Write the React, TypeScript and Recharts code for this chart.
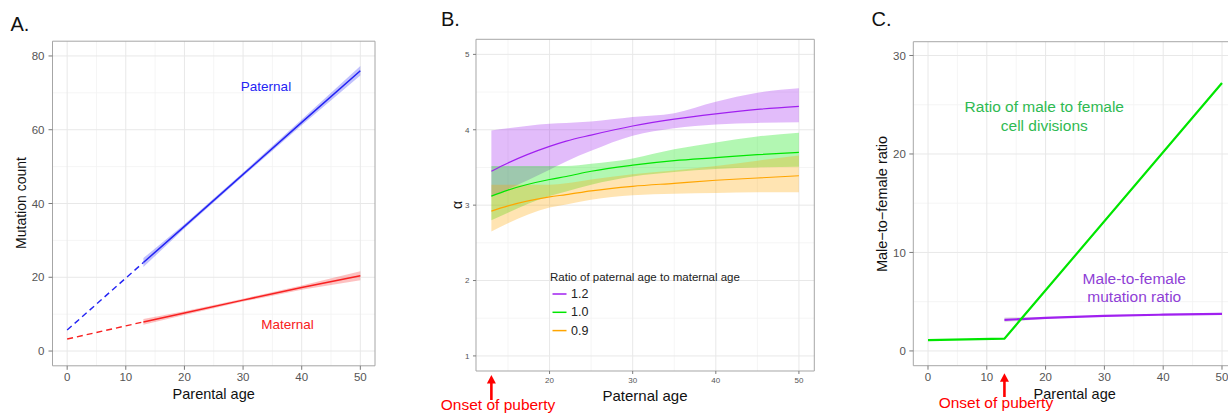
import React from 'react';
import {
  ComposedChart,
  Line,
  Area,
  XAxis,
  YAxis,
  CartesianGrid,
  ReferenceArea,
  Legend,
} from 'recharts';

const FONT = '"Liberation Sans", Arial, Helvetica, sans-serif';
const PUBERTY_AGE = 13;
const pubertyLabel = 'Onset of puberty';

// ---------- Panel A: mutation count vs parental age ----------
const ageAExtrap = [0, 13];
const paternalExtrap = [5.7, 24.0];
const maternalExtrap = [3.25, 7.9];
const ageAFit = [13, 20, 30, 40, 50];
const paternalFit = [24.0, 33.8, 47.9, 62.0, 76.0];
const paternalLow = [22.8, 33.2, 47.4, 61.2, 74.7];
const paternalHigh = [25.2, 34.4, 48.4, 62.8, 77.3];
const maternalFit = [7.9, 10.3, 13.8, 17.2, 20.4];
const maternalLow = [7.1, 9.8, 13.4, 16.6, 19.2];
const maternalHigh = [8.7, 10.8, 14.2, 17.8, 21.6];
const xTicksA = [0, 10, 20, 30, 40, 50];
const xMinorA = [5, 15, 25, 35, 45];
const yTicksA = [0, 20, 40, 60, 80];
const yMinorA = [10, 30, 50, 70];

// ---------- Panel B: alpha vs paternal age ----------
const ageB = [13, 15, 20, 22, 25, 30, 35, 40, 45, 50];
const ratio12Fit = [3.45, 3.56, 3.78, 3.85, 3.93, 4.05, 4.14, 4.21, 4.27, 4.31];
const ratio12Low = [3.11, 3.21, 3.47, 3.58, 3.72, 3.92, 4.02, 4.07, 4.09, 4.1];
const ratio12High = [3.99, 4.02, 4.08, 4.09, 4.11, 4.17, 4.22, 4.37, 4.49, 4.55];
const ratio10Fit = [3.12, 3.2, 3.34, 3.38, 3.45, 3.53, 3.59, 3.63, 3.67, 3.7];
const ratio10Low = [2.8, 2.9, 3.12, 3.18, 3.27, 3.38, 3.44, 3.48, 3.5, 3.51];
const ratio10High = [3.52, 3.52, 3.52, 3.52, 3.55, 3.62, 3.74, 3.83, 3.91, 3.96];
const ratio09Fit = [2.92, 2.99, 3.11, 3.14, 3.19, 3.25, 3.29, 3.33, 3.36, 3.39];
const ratio09Low = [2.65, 2.76, 2.97, 3.01, 3.07, 3.13, 3.15, 3.16, 3.17, 3.17];
const ratio09High = [3.27, 3.27, 3.27, 3.29, 3.34, 3.41, 3.46, 3.52, 3.59, 3.66];
const xTicksB = [PUBERTY_AGE, 20, 30, 40, 50];
const xMajorB = [20, 30, 40, 50];
const xMinorB = [15, 25, 35, 45];
const yTicksB = [1, 2, 3, 4, 5];
const yMinorB = [1.5, 2.5, 3.5, 4.5];
const legendTitleB = 'Ratio of paternal age to maternal age';
const seriesB = [
  { key: 'r12', label: '1.2', color: '#a020f0' },
  { key: 'r10', label: '1.0', color: '#00e600' },
  { key: 'r09', label: '0.9', color: '#ffa500' },
];

// ---------- Panel C: male-to-female ratio ----------
const ageDivC = [0, 13, 50];
const divisionRatio = [1.1, 1.25, 27.2];
const ageMutC = [13, 20, 30, 40, 50];
const mutationRatio = [3.15, 3.35, 3.56, 3.68, 3.76];
const mutationLow = [2.9, 3.25, 3.5, 3.62, 3.7];
const mutationHigh = [3.4, 3.45, 3.62, 3.74, 3.82];
const xTicksC = [0, 10, PUBERTY_AGE, 20, 30, 40, 50];
const xMajorC = [0, 10, 20, 30, 40, 50];
const xMinorC = [5, 15, 25, 35, 45];
const yTicksC = [0, 10, 20, 30];
const yMinorC = [5, 15, 25];

// ---------- tables ----------
const extrapRowsA = ageAExtrap.map((age, i) => ({
  age,
  paternal: paternalExtrap[i],
  maternal: maternalExtrap[i],
}));
const fitRowsA = ageAFit.map((age, i) => ({
  age,
  paternal: paternalFit[i],
  maternal: maternalFit[i],
  paternalBand: [paternalLow[i], paternalHigh[i]],
  maternalBand: [maternalLow[i], maternalHigh[i]],
}));
const rowsB = ageB.map((age, i) => ({
  age,
  r12: ratio12Fit[i],
  r12Band: [ratio12Low[i], ratio12High[i]],
  r10: ratio10Fit[i],
  r10Band: [ratio10Low[i], ratio10High[i]],
  r09: ratio09Fit[i],
  r09Band: [ratio09Low[i], ratio09High[i]],
}));
const divRowsC = ageDivC.map((age, i) => ({ age, ratio: divisionRatio[i] }));
const mutRowsC = ageMutC.map((age, i) => ({
  age,
  mut: mutationRatio[i],
  mutBand: [mutationLow[i], mutationHigh[i]],
}));

// ---------- styles ----------
const GRID_MAJOR = '#e8e8e8';
const GRID_MINOR = '#f3f3f3';
const BORDER = '#a6a6a6';
const TICK_LINE = '#7a7a7a';
const TICK_TEXT = '#555555';
const BLUE = '#2424f4';
const RED = '#f82020';
const PUBERTY_RED = '#ff0000';
const GREEN_C = '#00e600';
const PURPLE_C = '#a020f0';

type TickCfg = {
  fontSize: number;
  tickLen: number;
  labelDy: number;
  arrowTip: number;
  arrowTail: number;
  textDx: number;
  textDy: number;
};

function makeXTick(cfg: TickCfg) {
  return (props: any) => {
    const { x, y, payload } = props;
    const v = payload.value;
    if (v === PUBERTY_AGE) {
      const tip = y + cfg.arrowTip;
      return (
        <g>
          <line x1={x} x2={x} y1={tip + 7} y2={y + cfg.arrowTail} stroke={PUBERTY_RED} strokeWidth={2.6} />
          <polygon points={`${x},${tip} ${x - 4.5},${tip + 8.5} ${x + 4.5},${tip + 8.5}`} fill={PUBERTY_RED} />
          <text x={x + cfg.textDx} y={y + cfg.textDy} textAnchor="middle" fontSize={15.5} fill={PUBERTY_RED}>
            {pubertyLabel}
          </text>
        </g>
      );
    }
    return (
      <g>
        <line x1={x} x2={x} y1={y} y2={y + cfg.tickLen} stroke={TICK_LINE} />
        <text
          x={x}
          y={y + cfg.labelDy}
          textAnchor="middle"
          dominantBaseline="central"
          fontSize={cfg.fontSize}
          fill={TICK_TEXT}
        >
          {v}
        </text>
      </g>
    );
  };
}

const tickB = makeXTick({ fontSize: 8, tickLen: 3, labelDy: 10, arrowTip: 4, arrowTail: 29, textDx: 6.7, textDy: 39 });
const tickC = makeXTick({ fontSize: 11.5, tickLen: 4, labelDy: 11.6, arrowTip: 7.6, arrowTail: 31.3, textDx: -8.5, textDy: 42.8 });

const LegendB = () => (
  <svg width={200} height={75} style={{ display: 'block', overflow: 'visible' }}>
    <text x={0} y={15.5} fontSize={11.5} fill="#222">
      {legendTitleB}
    </text>
    {seriesB.map((s, i) => (
      <g key={s.key}>
        <line x1={2.5} x2={16.5} y1={29 + i * 18.3} y2={29 + i * 18.3} stroke={s.color} strokeWidth={1.5} />
        <text x={21} y={29 + i * 18.3} dominantBaseline="central" fontSize={12.5} fill="#222">
          {s.label}
        </text>
      </g>
    ))}
  </svg>
);

const abs = (left: number): React.CSSProperties => ({ position: 'absolute', left, top: 0 });

export default function App() {
  return (
    <div
      style={{
        position: 'fixed',
        left: 0,
        top: 0,
        width: 1228,
        height: 414,
        overflow: 'hidden',
        background: '#ffffff',
        fontFamily: FONT,
      }}
    >
      {/* Panel A */}
      <div style={abs(0)}>
        <ComposedChart width={380} height={414} data={fitRowsA} margin={{ top: 41.2, right: 5, bottom: 0, left: 0 }}>
          <CartesianGrid horizontalValues={yMinorA} verticalValues={xMinorA} stroke={GRID_MINOR} strokeWidth={0.8} />
          <CartesianGrid horizontalValues={yTicksA} verticalValues={xTicksA} stroke={GRID_MAJOR} strokeWidth={1} />
          <XAxis
            dataKey="age"
            type="number"
            domain={[-2.5, 52.5]}
            ticks={xTicksA}
            interval={0}
            height={48.2}
            axisLine={false}
            tickLine={{ stroke: TICK_LINE }}
            tickSize={4}
            tickMargin={3.5}
            tick={{ fontSize: 11.5, fill: TICK_TEXT }}
            allowDataOverflow
          />
          <YAxis
            type="number"
            domain={[-4, 84]}
            ticks={yTicksA}
            interval={0}
            width={52.5}
            axisLine={false}
            tickLine={{ stroke: TICK_LINE }}
            tickSize={4}
            tickMargin={4}
            tick={{ fontSize: 11.5, fill: TICK_TEXT }}
            allowDataOverflow
          />
          <Area dataKey="paternalBand" type="linear" stroke="none" fill={BLUE} fillOpacity={0.28} isAnimationActive={false} legendType="none" />
          <Area dataKey="maternalBand" type="linear" stroke="none" fill={RED} fillOpacity={0.28} isAnimationActive={false} legendType="none" />
          <Line data={extrapRowsA} dataKey="paternal" type="linear" stroke={BLUE} strokeWidth={1.4} strokeDasharray="6 4" dot={false} isAnimationActive={false} />
          <Line data={extrapRowsA} dataKey="maternal" type="linear" stroke={RED} strokeWidth={1.4} strokeDasharray="6 4" dot={false} isAnimationActive={false} />
          <Line dataKey="paternal" type="linear" stroke={BLUE} strokeWidth={1.5} dot={false} isAnimationActive={false} />
          <Line dataKey="maternal" type="linear" stroke={RED} strokeWidth={1.5} dot={false} isAnimationActive={false} />
          <ReferenceArea x1={-2.5} x2={52.5} y1={-4} y2={84} fill="none" stroke={BORDER} strokeWidth={1} ifOverflow="visible" />
        </ComposedChart>
      </div>

      {/* Panel B */}
      <div style={abs(410)}>
        <ComposedChart width={409.3} height={414} data={rowsB} margin={{ top: 39.3, right: 5, bottom: 0, left: 0 }}>
          <CartesianGrid horizontalValues={yMinorB} verticalValues={xMinorB} stroke={GRID_MINOR} strokeWidth={0.8} />
          <CartesianGrid horizontalValues={yTicksB} verticalValues={xMajorB} stroke={GRID_MAJOR} strokeWidth={1} />
          <XAxis
            dataKey="age"
            type="number"
            domain={[11.15, 51.85]}
            ticks={xTicksB}
            interval={0}
            height={43}
            axisLine={false}
            tickLine={false}
            tickSize={0}
            tickMargin={0}
            tick={tickB}
            allowDataOverflow
          />
          <YAxis
            type="number"
            domain={[0.8, 5.2]}
            ticks={yTicksB}
            interval={0}
            width={66}
            axisLine={false}
            tickLine={{ stroke: TICK_LINE }}
            tickSize={3}
            tickMargin={3.5}
            tick={{ fontSize: 8, fill: TICK_TEXT }}
            allowDataOverflow
          />
          {seriesB.map((s) => (
            <Area
              key={s.key + 'band'}
              dataKey={s.key + 'Band'}
              type="monotone"
              stroke="none"
              fill={s.color}
              fillOpacity={0.3}
              isAnimationActive={false}
              legendType="none"
            />
          ))}
          {seriesB.map((s) => (
            <Line
              key={s.key}
              name={s.label}
              dataKey={s.key}
              type="monotone"
              stroke={s.color}
              strokeWidth={1.2}
              dot={false}
              isAnimationActive={false}
            />
          ))}
          <ReferenceArea x1={11.15} x2={51.85} y1={0.8} y2={5.2} fill="none" stroke={BORDER} strokeWidth={1} ifOverflow="visible" />
          <Legend
            layout="horizontal"
            verticalAlign="middle"
            align="center"
            content={<LegendB />}
            wrapperStyle={{ position: 'absolute', left: 140, top: 265, width: 200, height: 75 }}
          />
        </ComposedChart>
      </div>

      {/* Panel C */}
      <div style={abs(830)}>
        <ComposedChart width={411.7} height={414} data={mutRowsC} margin={{ top: 41.7, right: 5, bottom: 0, left: 0 }}>
          <CartesianGrid horizontalValues={yMinorC} verticalValues={xMinorC} stroke={GRID_MINOR} strokeWidth={0.8} />
          <CartesianGrid horizontalValues={yTicksC} verticalValues={xMajorC} stroke={GRID_MAJOR} strokeWidth={1} />
          <XAxis
            dataKey="age"
            type="number"
            domain={[-2.5, 52.5]}
            ticks={xTicksC}
            interval={0}
            height={48.3}
            axisLine={false}
            tickLine={false}
            tickSize={0}
            tickMargin={0}
            tick={tickC}
            allowDataOverflow
          />
          <YAxis
            type="number"
            domain={[-1.5, 31.4]}
            ticks={yTicksC}
            interval={0}
            width={83.3}
            axisLine={false}
            tickLine={{ stroke: TICK_LINE }}
            tickSize={4}
            tickMargin={3.5}
            tick={{ fontSize: 11.5, fill: TICK_TEXT }}
            allowDataOverflow
          />
          <Area dataKey="mutBand" type="monotone" stroke="none" fill="#888888" fillOpacity={0.25} isAnimationActive={false} legendType="none" />
          <Line dataKey="mut" type="monotone" stroke={PURPLE_C} strokeWidth={2.2} dot={false} isAnimationActive={false} />
          <Line data={divRowsC} dataKey="ratio" type="linear" stroke={GREEN_C} strokeWidth={2.2} dot={false} isAnimationActive={false} />
          <ReferenceArea x1={-2.5} x2={52.5} y1={-1.5} y2={31.4} fill="none" stroke={BORDER} strokeWidth={1} ifOverflow="visible" />
        </ComposedChart>
      </div>

      {/* Titles and annotations */}
      <svg
        width={1228}
        height={414}
        style={{ position: 'absolute', left: 0, top: 0, pointerEvents: 'none' }}
      >
        <text x={10.5} y={30.5} fontSize={20} fill="#111">A.</text>
        <text x={441} y={26} fontSize={20} fill="#111">B.</text>
        <text x={871.5} y={26} fontSize={20} fill="#111">C.</text>

        <text x={21} y={203} fontSize={14} fill="#111" textAnchor="middle" dominantBaseline="central" transform="rotate(-90 21 203)">
          Mutation count
        </text>
        <text x={213.7} y={394} fontSize={14.5} fill="#111" textAnchor="middle" dominantBaseline="central">
          Parental age
        </text>
        <text x={266} y={86} fontSize={13.5} fill={BLUE} textAnchor="middle" dominantBaseline="central">
          Paternal
        </text>
        <text x={287.5} y={324} fontSize={13.5} fill={RED} textAnchor="middle" dominantBaseline="central">
          Maternal
        </text>

        <text x={456.7} y={205} fontSize={14} fill="#111" textAnchor="middle" dominantBaseline="central" transform="rotate(-90 456.7 205)">
          α
        </text>
        <text x={645} y={395.7} fontSize={15} fill="#111" textAnchor="middle" dominantBaseline="central">
          Paternal age
        </text>

        <text x={881.7} y={204} fontSize={14.5} fill="#111" textAnchor="middle" dominantBaseline="central" transform="rotate(-90 881.7 204)">
          Male−to−female ratio
        </text>
        <text x={1074.7} y={394.3} fontSize={14.5} fill="#111" textAnchor="middle" dominantBaseline="central">
          Parental age
        </text>
        <text x={1044.3} y={106.7} fontSize={15.5} fill="#2fba52" textAnchor="middle" dominantBaseline="central">
          Ratio of male to female
        </text>
        <text x={1044.3} y={125} fontSize={15.5} fill="#2fba52" textAnchor="middle" dominantBaseline="central">
          cell divisions
        </text>
        <text x={1134.3} y={278.3} fontSize={15.5} fill="#8f3fd6" textAnchor="middle" dominantBaseline="central">
          Male-to-female
        </text>
        <text x={1134.3} y={296.7} fontSize={15.5} fill="#8f3fd6" textAnchor="middle" dominantBaseline="central">
          mutation ratio
        </text>
      </svg>
    </div>
  );
}
